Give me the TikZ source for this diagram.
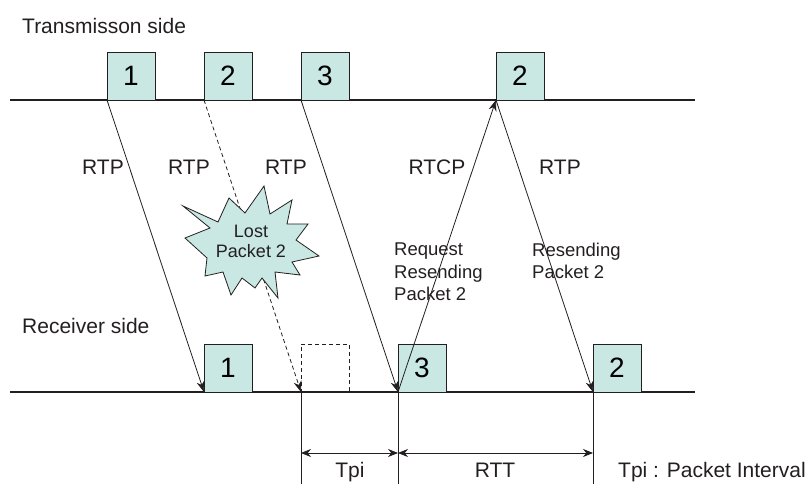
\documentclass[tikz,border=0pt]{standalone}
\usepackage{fontspec}
\setmainfont{Liberation Sans}
\usetikzlibrary{positioning,calc,arrows.meta}
\definecolor{pktfill}{HTML}{C9E7E3}
\definecolor{pktline}{HTML}{231F20}

\begin{document}
\begin{tikzpicture}[x=1pt, y=-1pt,
  pkt/.style={draw=pktline, fill=pktfill, line width=0.9pt, minimum size=48pt,
              inner sep=0pt, outer sep=0pt, anchor=south west,
              font=\fontsize{28}{30}\selectfont},
  lbl/.style={font=\fontsize{21}{24}\selectfont, text=pktline, inner sep=0pt},
  note/.style={font=\fontsize{18.5}{22.5}\selectfont, text=pktline, align=left,
               inner sep=0pt, anchor=base west},
  burstline/.style={draw=pktline, fill=pktfill, line width=0.8pt, line join=miter},
  msg/.style={-{Stealth[length=11pt, width=8pt]}, line width=0.8pt, draw=pktline},
  dim/.style={{Stealth[length=10pt, width=8pt]}-{Stealth[length=10pt, width=8pt]},
              line width=0.8pt, draw=pktline},
]
\useasboundingbox (0,0) rectangle (807,484);

\def\ytx{100}  % transmitter time line
\def\yrx{392}  % receiver time line
\def\ydim{453} % dimension arrows
\def\ylow{484} % foot of the drop lines

% --- time lines
\coordinate (txL) at (10,\ytx);  \coordinate (txR) at (695,\ytx);
\coordinate (rxL) at (10,\yrx);  \coordinate (rxR) at (695,\yrx);
\draw[pktline, line width=1.1pt] (txL) -- (txR);
\draw[pktline, line width=1.1pt] (rxL) -- (rxR);

\node[lbl, anchor=base west] (txname) at (22,34) {Transmisson side};
\node[lbl, anchor=base west] (rxname) at (22,333) {Receiver side};

% --- packets sent and received
\foreach \name/\xx/\num in {t1/107/1, t2/204/2, t3/301/3, t4/496/2} {
  \node[pkt] (\name) at (\xx,\ytx) {\num};
}
\foreach \name/\xx/\num in {r1/204/1, r3/398/3, r4/593/2} {
  \node[pkt] (\name) at (\xx,\yrx) {\num};
}
\node[pkt, fill=none, dashed, dash pattern=on 4pt off 3pt] (rlost) at (301,\yrx) {};

% --- messages
\draw[msg] (t1.south west) -- (r1.south west);
\draw[msg, dash pattern=on 4pt off 3pt] (t2.south west) -- (rlost.south west);
\draw[msg] (t3.south west) -- (r3.south west);
\draw[msg] (r3.south west) -- (t4.south west);
\draw[msg] (t4.south west) -- (r4.south west);

\foreach \name/\xx/\txt in {m1/103/RTP, m2/189/RTP, m3/286/RTP, m4/437/RTCP, m5/560/RTP} {
  \node[lbl, anchor=base] (\name) at (\xx,175) {\txt};
}

% lost packet burst (covers the dashed message): tip, notch, tip, notch ...
\draw[burstline] plot coordinates {
  (183,206) (218,222) (229,198) (245,213) (264,186) (270,214)
  (292,200) (287,224) (308,224) (296,240) (319,256) (292,262)
  (300,275) (275,272) (278,298) (262,278) (255,288) (242,278)
  (231,295) (223,272) (205,276) (207,258) (185,238) (210,228)
} -- cycle;
\node[font=\fontsize{18}{20}\selectfont, text=pktline, align=center,
      inner sep=0pt, anchor=base] (burst) at (251,258) {Lost\\Packet 2};

% multi-line notes sit on the baseline of their last line
\node[note] (reqnote) at (394,301) {Request\\Resending\\Packet 2};
\node[note] (resnote) at (532,279) {Resending\\Packet 2};

% --- intervals
\coordinate (dTa) at (301,\ylow);
\coordinate (dTb) at (398,\ylow);
\coordinate (dTc) at (593,\ylow);
\draw[pktline, line width=0.8pt] (rlost.south west) -- (dTa);
\draw[pktline, line width=0.8pt] (r3.south west) -- (dTb);
\draw[pktline, line width=0.8pt] (r4.south west) -- (dTc);

\coordinate (ha) at (301,\ydim);
\coordinate (hb) at (398,\ydim);
\coordinate (hc) at (593,\ydim);
\draw[dim] (ha) -- (hb);
\draw[dim] (hb) -- (hc);

\node[lbl, anchor=base] (tpi) at (350,477) {Tpi};
\node[lbl, anchor=base] (rtt) at (495,477) {RTT};
\node[lbl, anchor=base west] (legend) at (618,477) {Tpi : Packet Interval};
\end{tikzpicture}
\end{document}
